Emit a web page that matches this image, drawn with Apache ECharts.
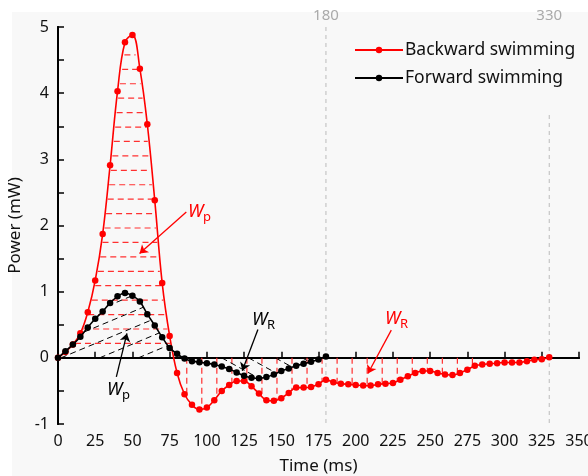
<!DOCTYPE html>
<html>
<head>
<meta charset="UTF-8">
<title>Power vs time</title>
<script src="https://cdn.jsdelivr.net/npm/echarts@6/dist/echarts.min.js"></script>
<style>
    html, body { margin: 0; padding: 0; background: #fff; }
    #main { width: 588px; height: 476px; }
</style>
</head>
<body>
<div id="main"></div>
<script>
// time step between samples (ms)
var step = 5;
// backward swimming, 0..330 ms
var backward = [0, 0.09, 0.2, 0.37, 0.69, 1.17, 1.87, 2.91, 4.03, 4.77, 4.88, 4.37, 3.53, 2.38, 1.13, 0.33,
    -0.23, -0.55, -0.71, -0.78, -0.75, -0.64, -0.50, -0.41, -0.35, -0.35, -0.43, -0.54, -0.64, -0.65, -0.61,
    -0.53, -0.45, -0.45, -0.44, -0.40, -0.33, -0.37, -0.39, -0.40, -0.41, -0.42, -0.42, -0.40, -0.39, -0.38,
    -0.33, -0.28, -0.23, -0.20, -0.20, -0.23, -0.25, -0.26, -0.23, -0.18, -0.12, -0.10, -0.09, -0.08, -0.07,
    -0.07, -0.07, -0.05, -0.03, -0.02, 0.01];
// forward swimming, 0..180 ms
var forward = [0, 0.10, 0.20, 0.32, 0.46, 0.59, 0.70, 0.83, 0.93, 0.98, 0.94, 0.85, 0.66, 0.49, 0.31, 0.15,
    0.06, -0.01, -0.05, -0.065, -0.08, -0.10, -0.13, -0.17, -0.22, -0.27, -0.30, -0.31, -0.29, -0.25, -0.20,
    -0.16, -0.12, -0.09, -0.06, -0.025, 0.02];
var xTicks = [0, 25, 50, 75, 100, 125, 150, 175, 200, 225, 250, 275, 300, 325, 350];
var markTimes = [180, 330];

var FONT = 'Noto Sans';
var RED = '#ff0000';

function pairs(arr) {
    return arr.map(function (v, i) { return [i * step, v]; });
}
function valueAt(arr, t) {
    var i = Math.floor(t / step);
    if (i < 0) return arr[0];
    if (i >= arr.length - 1) return arr[arr.length - 1];
    var f = (t - i * step) / step;
    return arr[i] + (arr[i + 1] - arr[i]) * f;
}
// first contiguous run of t where test(t) is true
function span(t1, t2, test) {
    var a = null, b = null;
    for (var t = t1; t <= t2; t += 0.1) {
        if (test(t)) { if (a === null) a = t; b = t; }
        else if (a !== null) break;
    }
    return a === null ? null : [a, b];
}

// hatch segments: [x1, y1, x2, y2]
var redHatch = [];
for (var k = 1; k <= 21; k++) {
    var L = k * 0.218;
    var s = span(0, 90, function (t) { return valueAt(backward, t) >= L; });
    if (s && s[1] - s[0] > 1) redHatch.push([s[0] + 0.8, L, s[1] - 0.8, L]);
}
for (var k = 0; k < 20; k++) {
    var t = 86.5 + 10.1 * k;
    var v = valueAt(backward, t);
    if (v < -0.04) redHatch.push([t, 0, t, v]);
}

var blackHatch = [];
var sUp = 0.0094;
for (var t0 = -50; t0 <= 80; t0 += 26) {
    (function (t0) {
        var s = span(0, 90, function (t) {
            var p = sUp * (t - t0);
            return p >= 0 && p <= valueAt(forward, t);
        });
        if (s && s[1] - s[0] > 1) blackHatch.push([s[0], sUp * (s[0] - t0), s[1], sUp * (s[1] - t0)]);
    })(t0);
}
var sDown = 0.0124;
for (var t0 = 92; t0 <= 170; t0 += 18) {
    (function (t0) {
        var s = span(t0, 180, function (t) {
            var p = -sDown * (t - t0);
            return p <= 0 && p >= valueAt(forward, t);
        });
        if (s && s[1] - s[0] > 1) blackHatch.push([s[0], -sDown * (s[0] - t0), s[1], -sDown * (s[1] - t0)]);
    })(t0);
}

var myChart = echarts.init(document.getElementById('main'));

// draws straight dashed segments through the cartesian axes
function segSeries(data, color, width, dash, z) {
    return {
        type: 'custom', silent: true, z: z, clip: false,
        encode: { x: [0, 2], y: [1, 3] },
        data: data,
        renderItem: function (params, api) {
            var p1 = api.coord([api.value(0), api.value(1)]);
            var p2 = api.coord([api.value(2), api.value(3)]);
            return {
                type: 'line',
                shape: { x1: p1[0], y1: p1[1], x2: p2[0], y2: p2[1] },
                style: { stroke: color, lineWidth: width, lineDash: dash, fill: null }
            };
        }
    };
}

var option = {
    backgroundColor: '#fff',
    animation: false,
    textStyle: { fontFamily: FONT },
    grid: { left: 58, right: 9, top: 27, bottom: 52, outerBoundsMode: 'none', containLabel: false },
    legend: {
        orient: 'vertical',
        left: 349,
        top: 36,
        itemWidth: 48,
        itemHeight: 8,
        itemGap: 10,
        data: ['Backward swimming', 'Forward swimming'],
        textStyle: { fontFamily: FONT, fontSize: 17.5, color: '#111', padding: [0, 0, 0, -3] }
    },
    xAxis: [{
        type: 'value', min: 0, max: 350, interval: 25,
        name: 'Time (ms)', nameLocation: 'middle', nameGap: 34,
        nameTextStyle: { fontFamily: FONT, fontSize: 17, color: '#111' },
        axisLine: { lineStyle: { color: '#000', width: 2 } },
        axisTick: { inside: true, length: 6, lineStyle: { width: 1.5 } },
        axisLabel: { margin: 9, fontFamily: FONT, fontSize: 16, color: '#111', showMaxLabel: true,
            customValues: xTicks },
        splitLine: { show: false }
    }, {
        type: 'value', min: 0, max: 350, position: 'top',
        axisLine: { show: true, lineStyle: { color: '#000', width: 2 } },
        axisTick: { show: false },
        axisLabel: { customValues: markTimes, margin: 4, fontFamily: FONT, fontSize: 15, color: '#aaa' },
        splitLine: { show: false }
    }],
    yAxis: [{
        type: 'value', min: -1, max: 5, interval: 1,
        name: 'Power (mW)', nameLocation: 'middle', nameGap: 30, nameRotate: 90,
        nameTextStyle: { fontFamily: FONT, fontSize: 17, color: '#111' },
        axisLine: { show: true, lineStyle: { color: '#000', width: 2 } },
        axisTick: { inside: true, length: 6, lineStyle: { width: 1.5 } },
        minorTick: { show: true, splitNumber: 2, length: 6, lineStyle: { color: '#000', width: 1.5 } },
        axisLabel: { margin: 9, fontFamily: FONT, fontSize: 16, color: '#111' },
        splitLine: { show: false }
    }, {
        type: 'value', min: -1, max: 5, position: 'right',
        axisLine: { show: true, lineStyle: { color: '#000', width: 2 } },
        axisTick: { show: false }, axisLabel: { show: false }, splitLine: { show: false }
    }],
    graphic: [
        { type: 'rect', silent: true, z: -10, shape: { x: 12, y: 12, width: 576, height: 464 }, style: { fill: '#f8f8f8' } },
        { type: 'text', x: 188, y: 203, style: { text: 'W', fill: RED, font: 'italic 18px "Noto Sans"' } },
        { type: 'text', x: 203, y: 211, style: { text: 'p', fill: RED, font: '13px "Noto Sans"' } },
        { type: 'text', x: 107, y: 381, style: { text: 'W', fill: '#000', font: 'italic 18px "Noto Sans"' } },
        { type: 'text', x: 122, y: 389, style: { text: 'p', fill: '#000', font: '13px "Noto Sans"' } },
        { type: 'text', x: 252, y: 311, style: { text: 'W', fill: '#000', font: 'italic 18px "Noto Sans"' } },
        { type: 'text', x: 267, y: 319, style: { text: 'R', fill: '#000', font: '13px "Noto Sans"' } },
        { type: 'text', x: 385, y: 310, style: { text: 'W', fill: RED, font: 'italic 18px "Noto Sans"' } },
        { type: 'text', x: 400, y: 318, style: { text: 'R', fill: RED, font: '13px "Noto Sans"' } }
    ],
    series: [
        segSeries([[markTimes[0], 5, markTimes[0], -1], [markTimes[1], 3.67, markTimes[1], -1]], '#bbb', 1, [4, 4], 1),
        segSeries([[0, 0, 350, 0]], '#000', 1, [5, 4], 1),
        segSeries(redHatch, '#ff3030', 1.2, [6, 4], 2),
        segSeries(blackHatch, '#000', 1, [6, 4], 2),
        {
            name: 'Backward swimming', type: 'line', z: 4,
            data: pairs(backward), smooth: 0.4, showAllSymbol: true,
            symbol: 'circle', symbolSize: 6.5,
            itemStyle: { color: RED },
            lineStyle: { color: RED, width: 1.6 }
        },
        {
            name: 'Forward swimming', type: 'line', z: 5,
            data: pairs(forward), smooth: 0.3, showAllSymbol: true,
            symbol: 'circle', symbolSize: 6.5,
            itemStyle: { color: '#000' },
            lineStyle: { color: '#000', width: 1.6 }
        },
        {
            // annotation arrows
            type: 'lines', coordinateSystem: 'cartesian2d', silent: true, z: 6,
            symbol: ['none', 'arrow'], symbolSize: 8,
            lineStyle: { width: 1.3, opacity: 1 },
            data: [
                { coords: [[86.2, 2.205], [54.8, 1.577]], lineStyle: { color: RED } },
                { coords: [[39.2, -0.287], [46.3, 0.369]], lineStyle: { color: '#000' } },
                { coords: [[134.3, 0.429], [123.8, -0.196]], lineStyle: { color: '#000' } },
                { coords: [[223.9, 0.418], [208.2, -0.236]], lineStyle: { color: RED } }
            ]
        }
    ]
};

myChart.setOption(option);
</script>
</body>
</html>
